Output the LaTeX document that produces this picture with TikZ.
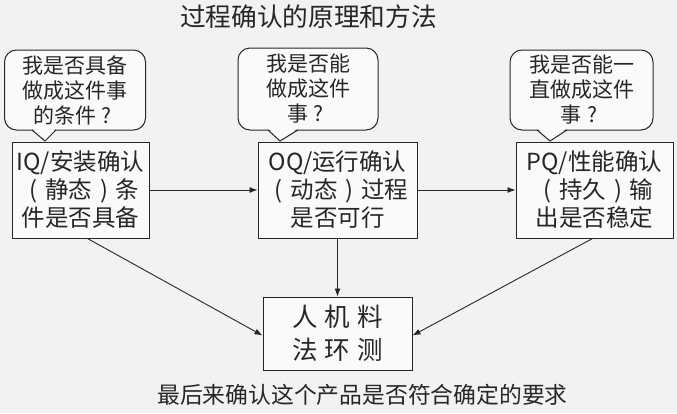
\documentclass[tikz,border=0pt]{standalone}
\usepackage{fontspec}
\setmainfont{Noto Sans CJK SC}
\usetikzlibrary{arrows.meta}
\definecolor{bg}{HTML}{F2F2F2}
\definecolor{ink}{HTML}{262626}
\newcommand{\lpar}{\makebox[1em][c]{(}}
\newcommand{\rpar}{\makebox[1em][c]{)}}
\newcommand{\qmk}{\makebox[1em][c]{?}}
\tikzset{
  boxnode/.style={draw=ink, line width=1pt, fill=white!60!bg, text=ink, align=center, inner sep=0pt,
    font=\fontsize{23.5}{28}\selectfont},
  callnode/.style={draw=ink, line width=1pt, rounded corners=12pt, fill=white!60!bg, text=ink, align=center, inner sep=0pt,
    font=\fontsize{21}{25}\selectfont},
  conn/.style={draw=ink, line width=0.9pt, -{Latex[length=8pt,width=6pt]}},
  tailfill/.style={fill=white!60!bg},
  tailline/.style={draw=ink, line width=1pt},
  plain/.style={text=ink, inner sep=0pt}
}
\begin{document}
\begin{tikzpicture}[x=1pt,y=-1pt]
\fill[bg] (0,0) rectangle (677,413);
\useasboundingbox (0,0) rectangle (677,413);

\node[plain, font=\fontsize{25.7}{28}\selectfont] (title) at (308.5,17) {过程确认的原理和方法};

% callouts
\node[callnode, minimum width=141pt, minimum height=80pt] (c1) at (75,90) {我是否具备\\做成这件事\\的条件\qmk};
\node[callnode, minimum width=140pt, minimum height=82pt] (c2) at (308,89) {我是否能\\做成这件\\事\qmk};
\node[callnode, minimum width=143pt, minimum height=80pt] (c3) at (581.5,90) {我是否能一\\直做成这件\\事\qmk};

% boxes
\node[boxnode, minimum width=137pt, minimum height=96pt] (iq) at (80.5,190) {IQ/安装确认\\\lpar 静态\rpar 条\\件是否具备};
\node[boxnode, minimum width=159pt, minimum height=96pt] (oq) at (337.5,190) {OQ/运行确认\\\lpar 动态\rpar 过程\\是否可行};
\node[boxnode, minimum width=157pt, minimum height=96pt] (pq) at (594.5,190) {PQ/性能确认\\\lpar 持久\rpar 输\\出是否稳定};
\node[boxnode, minimum width=149pt, minimum height=73pt, font=\fontsize{25.5}{33}\selectfont] (rj) at (337.5,333.5) {人\hspace{7pt}机\hspace{7pt}料\\法\hspace{7pt}环\hspace{7pt}测};

% tails
\coordinate (t1) at (45,141);
\coordinate (t2) at (280,141);
\coordinate (t3) at (550,141);
\fill[tailfill] (32,128) -- (56,128) -- (t1) -- cycle;
\draw[tailline] (32,130) -- (t1) -- (56,130);
\fill[tailfill] (268,128) -- (298,128) -- (t2) -- cycle;
\draw[tailline] (268,130) -- (t2) -- (298,130);
\fill[tailfill] (537,128) -- (567,128) -- (t3) -- cycle;
\draw[tailline] (537,130) -- (t3) -- (567,130);

% connectors
\draw[conn] (iq.east) -- (oq.west);
\draw[conn] (oq.east) -- (pq.west);
\draw[conn] (oq.south) -- (rj.north);
\draw[conn] ([xshift=7pt]iq.south) -- ([yshift=-2pt]rj.west);
\draw[conn] ([xshift=-2pt]pq.south) -- ([yshift=-2pt]rj.east);

\node[plain, font=\fontsize{22.8}{26}\selectfont] (foot) at (362.5,395) {最后来确认这个产品是否符合确定的要求};
\end{tikzpicture}
\end{document}
